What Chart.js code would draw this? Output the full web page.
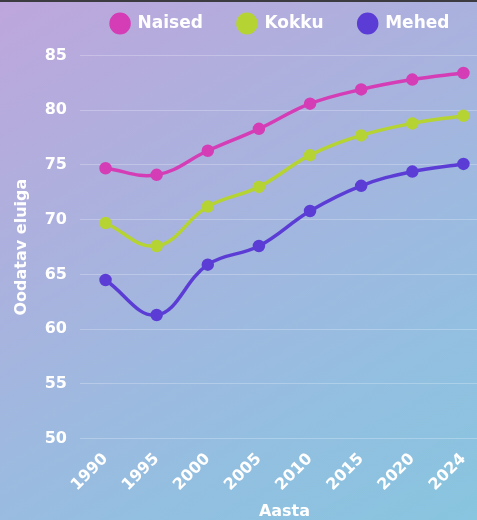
<!DOCTYPE html>
<html>
<head>
<meta charset="utf-8">
<script src="https://cdn.jsdelivr.net/npm/chart.js@4"></script>
<style>
html,body{margin:0;padding:0;width:477px;height:520px;overflow:hidden;}
body{background:linear-gradient(150deg,#bea6dc 0%,#a8b3de 40%,#93bfe0 75%,#88c5df 100%);position:relative;}
#topline{position:absolute;left:0;top:0;width:477px;height:2px;background:#3b3b40;}
#wrap{position:absolute;left:0;top:-20px;width:497px;height:545px;}
</style>
</head>
<body>
<div id="wrap"><canvas id="c"></canvas></div>
<div id="topline"></div>
<script>
const years = ['1990','1995','2000','2005','2010','2015','2020','2024'];
const naised = [74.7, 74.1, 76.3, 78.3, 80.6, 81.9, 82.8, 83.4];
const kokku  = [69.7, 67.6, 71.2, 73.0, 75.9, 77.7, 78.8, 79.5];
const mehed  = [64.5, 61.3, 65.9, 67.6, 70.8, 73.1, 74.4, 75.1];
const yTicks = [50, 55, 60, 65, 70, 75, 80, 85];

const FONT = '"DejaVu Sans", sans-serif';
function ds(label, data, color){
  return {label, data, borderColor: color, backgroundColor: color,
    pointBackgroundColor: color, pointBorderColor: color,
    borderWidth: 3.5, pointRadius: 4.5, pointHoverRadius: 4.5, tension: 0.4, fill: false};
}
const legendTweak = {
  id: 'legendTweak',
  beforeLayout(chart) {
    const lg = chart.legend;
    if (lg && !lg._tweaked) {
      const f = lg.fit, d = lg.draw;
      lg.fit = function(){ f.call(this); this.height += 13.5; };
      lg.draw = function(){ const c = this.ctx; c.save(); c.translate(30, 0); d.call(this); c.restore(); };
      lg._tweaked = true;
    }
  }
};
new Chart(document.getElementById('c'), {
  type: 'line',
  data: { labels: years, datasets: [
    ds('Naised', naised, '#d43db6'),
    ds('Kokku', kokku, '#b6d334'),
    ds('Mehed', mehed, '#5b3dd6')
  ]},
  plugins: [legendTweak],
  options: {
    responsive: true, maintainAspectRatio: false, animation: false,
    layout: { padding: { top: 0, left: 8.5, right: 5, bottom: 0 } },
    plugins: {
      legend: { position: 'top',
        labels: { usePointStyle: true, pointStyle: 'circle', boxWidth: 13, boxHeight: 13, pointStyleWidth: 18, padding: 35,
          color: '#ffffff', font: { family: FONT, size: 17, weight: 'bold' } } },
      tooltip: { enabled: false }
    },
    scales: {
      x: { offset: true,
        grid: { display: false },
        border: { display: false },
        ticks: { color: '#ffffff', maxRotation: 45, minRotation: 45, font: { family: FONT, size: 16, weight: 'bold' } },
        title: { display: true, text: 'Aasta', color: '#ffffff', font: { family: FONT, size: 16, weight: 'bold' } } },
      y: { min: 50, max: 85,
        afterBuildTicks: (axis) => { axis.ticks = yTicks.map(v => ({ value: v })); },
        grid: { color: 'rgba(255,255,255,0.25)', lineWidth: 1, drawTicks: false },
        border: { display: false },
        ticks: { color: '#ffffff', padding: 13, font: { family: FONT, size: 16, weight: 'bold' } },
        title: { display: true, text: 'Oodatav eluiga', color: '#ffffff', padding: { top: 4, bottom: 0 }, font: { family: FONT, size: 16, weight: 'bold' } } }
    }
  }
});
</script>
</body>
</html>
